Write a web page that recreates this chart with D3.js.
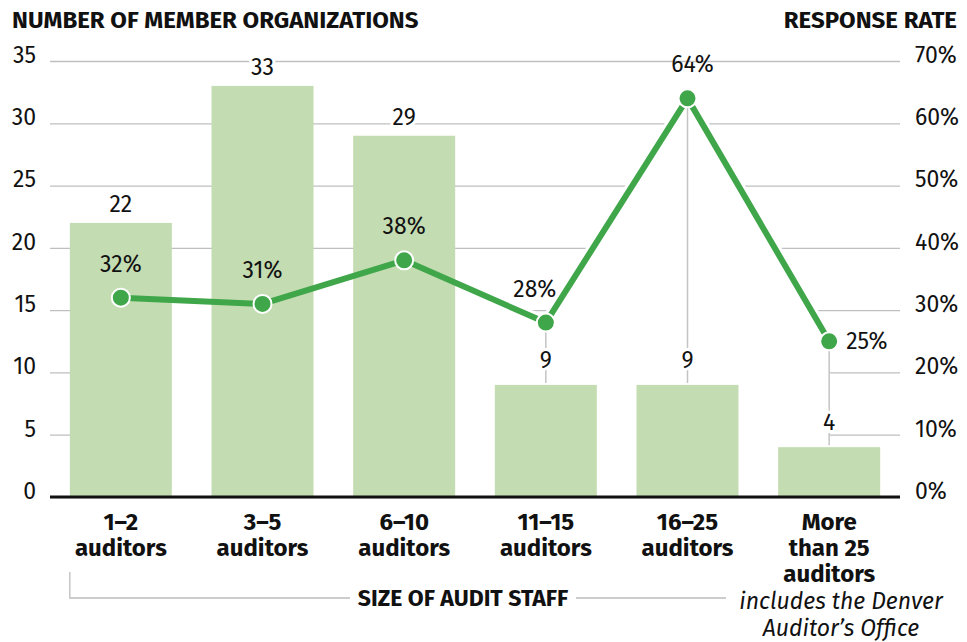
<!DOCTYPE html>
<html>
<head>
<meta charset="utf-8">
<script src="https://cdn.jsdelivr.net/npm/d3@7"></script>
<style>
  body { margin: 0; background: #fff; }
  svg { display: block; font-family: "Fira Sans", "Noto Sans", sans-serif; }
</style>
</head>
<body>
<script>
// data
let categories = ["1–2\nauditors", "3–5\nauditors", "6–10\nauditors", "11–15\nauditors", "16–25\nauditors", "More\nthan 25\nauditors"];
let memberCounts = [22, 33, 29, 9, 9, 4];
let responseRates = [32, 31, 38, 28, 64, 25];
let countTicks = [0, 5, 10, 15, 20, 25, 30, 35];
let rateTicks = [0, 10, 20, 30, 40, 50, 60, 70];

let svg = d3.select("body").append("svg")
	.attr("width", 967)
	.attr("height", 642);

let margin = {top: 61, right: 67, bottom: 145, left: 50};
let width = 967 - margin.left - margin.right;   // 850
let height = 642 - margin.top - margin.bottom;  // 436

let fontSize = 23;

let g = svg.append("g").attr("transform", `translate(${margin.left}, ${margin.top})`);

let x = d3.scaleBand()
	.domain(categories)
	.range([0, width])
	.paddingInner(0.28)
	.paddingOuter(0.14);

let y = d3.scaleLinear().domain([0, 35]).range([height, 0]);
let yR = d3.scaleLinear().domain([0, 70]).range([height, 0]);

let cx = d => x(d) + x.bandwidth() / 2;

//gridlines + left tick labels
let leftAxis = g.append("g")
	.call(d3.axisLeft(y).tickValues(countTicks).tickSize(-width).tickPadding(14));
leftAxis.select(".domain").remove();
leftAxis.selectAll("line").attr("stroke", "#bfbfbf").attr("stroke-width", 1.3);
leftAxis.selectAll("text")
	.attr("y", -6)
	.attr("font-size", fontSize)
	.attr("font-family", "'Fira Sans', 'Noto Sans', sans-serif")
	.attr("fill", "#111");

//right tick labels
let rightAxis = g.append("g")
	.attr("transform", `translate(${width}, 0)`)
	.call(d3.axisRight(yR).tickValues(rateTicks).tickSize(0).tickPadding(15).tickFormat(d => d + "%"));
rightAxis.select(".domain").remove();
rightAxis.selectAll("text")
	.attr("y", -6)
	.attr("font-size", fontSize)
	.attr("font-family", "'Fira Sans', 'Noto Sans', sans-serif")
	.attr("fill", "#111");

//white area under the rate line hides the gridlines there
let pts = categories.map((c, i) => ({c: c, rate: responseRates[i], count: memberCounts[i]}));

g.append("path")
	.datum(pts)
	.attr("fill", "#fff")
	.attr("d", d3.area().x(d => cx(d.c)).y0(height).y1(d => yR(d.rate)));

g.append("path")
	.datum(pts)
	.attr("fill", "none")
	.attr("stroke", "#fff")
	.attr("stroke-width", 12)
	.attr("stroke-linejoin", "round")
	.attr("d", d3.line().x(d => cx(d.c)).y(d => yR(d.rate)));

//bars
g.selectAll(".bar")
	.data(pts)
	.enter().append("rect")
	.attr("class", "bar")
	.attr("x", d => x(d.c))
	.attr("width", x.bandwidth())
	.attr("y", d => y(d.count))
	.attr("height", d => height - y(d.count))
	.attr("fill", "#c3dcb1");

//connectors from dot down to bar top, where the dot is above the bar
let above = pts.filter(d => yR(d.rate) < y(d.count));
g.selectAll(".conn")
	.data(above)
	.enter().append("line")
	.attr("class", "conn")
	.attr("x1", d => cx(d.c))
	.attr("x2", d => cx(d.c))
	.attr("y1", d => yR(d.rate))
	.attr("y2", d => y(d.count) - 2)
	.attr("stroke", "#c4c4c4")
	.attr("stroke-width", 1.5);

//bar value labels
g.selectAll(".countLabel")
	.data(pts)
	.enter().append("text")
	.attr("class", "countLabel")
	.attr("x", d => cx(d.c))
	.attr("y", d => y(d.count) - (yR(d.rate) < y(d.count) ? 17 : 11))
	.attr("text-anchor", "middle")
	.attr("font-size", fontSize)
	.attr("fill", "#111")
	.attr("stroke", "#fff")
	.attr("stroke-width", 6)
	.attr("paint-order", "stroke")
	.text(d => d.count);

//baseline
g.append("line")
	.attr("x1", 0)
	.attr("x2", width)
	.attr("y1", height)
	.attr("y2", height)
	.attr("stroke", "#111")
	.attr("stroke-width", 3);

//rate line
g.append("path")
	.datum(pts)
	.attr("fill", "none")
	.attr("stroke", "#3fa64a")
	.attr("stroke-width", 6)
	.attr("stroke-linejoin", "round")
	.attr("d", d3.line().x(d => cx(d.c)).y(d => yR(d.rate)));

g.selectAll(".dot")
	.data(pts)
	.enter().append("circle")
	.attr("class", "dot")
	.attr("cx", d => cx(d.c))
	.attr("cy", d => yR(d.rate))
	.attr("r", 9)
	.attr("fill", "#3fa64a")
	.attr("stroke", "#fff")
	.attr("stroke-width", 2);

//rate labels: nudge away from a steeply rising neighbour segment
let last = pts.length - 1;
function nudge(i) {
	if (i == last) return 17;
	if (i > 0 && i < last && responseRates[i + 1] - responseRates[i] > 20) return -11;
	if (i > 0 && i < last && responseRates[i] - responseRates[i + 1] > 20) return 5;
	return 0;
}
g.selectAll(".rateLabel")
	.data(pts)
	.enter().append("text")
	.attr("class", "rateLabel")
	.attr("x", (d, i) => cx(d.c) + nudge(i))
	.attr("y", (d, i) => i == last ? yR(d.rate) + 8 : yR(d.rate) - 26)
	.attr("text-anchor", (d, i) => i == last ? "start" : "middle")
	.attr("font-size", fontSize)
	.attr("fill", "#111")
	.text(d => d.rate + "%");

//category labels
let catG = g.selectAll(".cat")
	.data(categories)
	.enter().append("text")
	.attr("class", "cat")
	.attr("text-anchor", "middle")
	.attr("font-size", 24)
	.attr("font-weight", "bold")
	.attr("fill", "#111")
	.attr("transform", d => `translate(${cx(d)}, ${height + 33})`);

catG.selectAll("tspan")
	.data(d => d.split("\n"))
	.enter().append("tspan")
	.attr("x", 0)
	.attr("y", (d, i) => i * 26)
	.text(d => d);

//headers
svg.append("text")
	.attr("x", 12)
	.attr("y", 28)
	.attr("font-size", 24)
	.attr("font-weight", "bold")
	.attr("fill", "#111")
	.text("NUMBER OF MEMBER ORGANIZATIONS");

svg.append("text")
	.attr("x", 957)
	.attr("y", 28)
	.attr("text-anchor", "end")
	.attr("font-size", 24)
	.attr("font-weight", "bold")
	.attr("fill", "#111")
	.text("RESPONSE RATE");

//x axis title with bracket
let bx0 = margin.left + x(categories[0]);
svg.append("path")
	.attr("d", `M${bx0},572 V598 H350 M576,598 H726`)
	.attr("fill", "none")
	.attr("stroke", "#bdbdbd")
	.attr("stroke-width", 1.3);

svg.append("text")
	.attr("x", 463)
	.attr("y", 606)
	.attr("text-anchor", "middle")
	.attr("font-size", 23)
	.attr("font-weight", "bold")
	.attr("fill", "#111")
	.text("SIZE OF AUDIT STAFF");

let note = svg.append("text")
	.attr("text-anchor", "middle")
	.attr("font-size", 23)
	.attr("font-style", "italic")
	.attr("fill", "#111")
	.attr("transform", `translate(841, 609)`);
note.append("tspan").attr("x", 0).attr("y", 0).text("includes the Denver");
note.append("tspan").attr("x", 0).attr("y", 27).text("Auditor’s Office");
</script>
</body>
</html>
